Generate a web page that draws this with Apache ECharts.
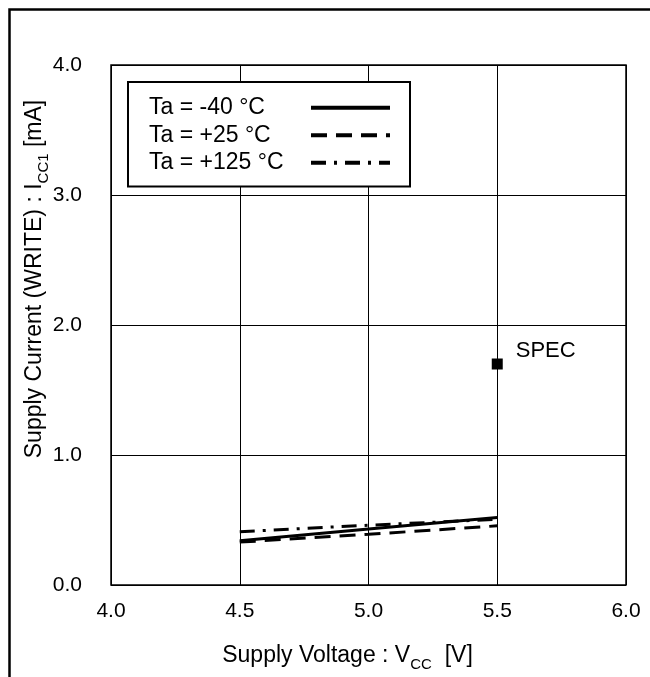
<!DOCTYPE html>
<html>
<head>
<meta charset="utf-8">
<script src="https://cdn.jsdelivr.net/npm/echarts@6/dist/echarts.min.js"></script>
<style>html,body{margin:0;padding:0;background:#fff}#c{width:650px;height:677px}</style>
</head>
<body>
<div id="c"></div>
<script>
var vcc = [4.5, 5.0, 5.5];
var iccM40 = [0.34, 0.43, 0.52];
var icc25 = [0.33, 0.39, 0.455];
var icc125 = [0.41, 0.46, 0.505];
var specV = [5.5];
var specI = [1.7];
var seriesNames = ['Ta = -40 °C', 'Ta = +25 °C', 'Ta = +125 °C'];
var xTicks = [4.0, 4.5, 5.0, 5.5, 6.0];
var yTicks = [0.0, 1.0, 2.0, 3.0, 4.0];

function pairs(xs, ys){ return xs.map(function(x,i){return [x, ys[i]];}); }
var font = 'Liberation Sans, Arial, sans-serif';
var chart = echarts.init(document.getElementById('c'));
chart.setOption({
  animation: false,
  backgroundColor: '#fff',
  textStyle: {fontFamily: font},
  graphic: [{
    type: 'rect', left: 7, top: 7, z: 100,
    shape: {x: 0, y: 0, width: 700, height: 700},
    style: {fill: 'none', stroke: '#000', lineWidth: 2.5}
  }],
  grid: {left: 111, top: 65, width: 515, height: 520, show: true, borderColor: '#000', borderWidth: 1.5, backgroundColor: 'transparent'},
  legend: {
    orient: 'vertical', left: 128, top: 82,
    data: seriesNames,
    align: 'right',
    itemWidth: 79, itemHeight: 20, itemGap: 0,
    padding: [12, 18, 10, 21],
    borderColor: '#000', borderWidth: 2, backgroundColor: '#fff',
    formatter: function(n){ return '{a|' + n + '}'; },
    textStyle: {fontSize: 23, color: '#000', fontFamily: font,
      rich: {a: {fontSize: 23, color: '#000', fontFamily: font, width: 157, align: 'left', lineHeight: 27.5, height: 27.5}}},
    lineStyle: {width: 4},
    itemStyle: {opacity: 0},
    selectedMode: false
  },
  xAxis: {
    type: 'value', min: 4.0, max: 6.0, interval: 0.5,
    axisLine: {show: false}, axisTick: {show: false},
    splitLine: {show: true, lineStyle: {color: '#000', width: 1}},
    axisLabel: {fontSize: 21, color: '#000', margin: 16, formatter: function(v){return v.toFixed(1);}},
    name: '{n|Supply Voltage : V}{s|CC}{n|  [V]}',
    nameLocation: 'middle', nameGap: 56, nameMoveOverlap: false,
    nameTextStyle: {padding: [0, 42, 0, 0], rich: {
      n: {fontSize: 23, color: '#000', fontFamily: font, lineHeight: 26, verticalAlign: 'bottom'},
      s: {fontSize: 15, color: '#000', fontFamily: font, lineHeight: 26, verticalAlign: 'bottom', padding: [0,0,-5,0]}
    }}
  },
  yAxis: {
    type: 'value', min: 0, max: 4.0, interval: 1.0,
    axisLine: {show: false}, axisTick: {show: false},
    splitLine: {show: true, lineStyle: {color: '#000', width: 1}},
    axisLabel: {fontSize: 21, color: '#000', margin: 29, formatter: function(v){return v.toFixed(1);}},
    name: '{n|Supply Current (WRITE) : I}{s|CC1}{n| [mA]}',
    nameLocation: 'middle', nameGap: 65, nameRotate: 90, nameMoveOverlap: false,
    nameTextStyle: {padding: [0, 0, 0, 92], rich: {
      n: {fontSize: 23, color: '#000', fontFamily: font, lineHeight: 26, verticalAlign: 'bottom'},
      s: {fontSize: 15, color: '#000', fontFamily: font, lineHeight: 26, verticalAlign: 'bottom', padding: [0,0,-5,0]}
    }}
  },
  series: [
    {name: seriesNames[0], type: 'line', data: pairs(vcc, iccM40), symbol: 'none', color: '#000',
     lineStyle: {color: '#000', width: 3, type: 'solid'}},
    {name: seriesNames[1], type: 'line', data: pairs(vcc, icc25), symbol: 'none', color: '#000',
     lineStyle: {color: '#000', width: 3, type: [16, 9]}},
    {name: seriesNames[2], type: 'line', data: pairs(vcc, icc125), symbol: 'none', color: '#000',
     lineStyle: {color: '#000', width: 3, type: [15, 8, 3, 8]}},
    {name: 'SPEC', type: 'scatter', data: pairs(specV, specI), symbol: 'rect', symbolSize: 11,
     itemStyle: {color: '#000', opacity: 1},
     label: {show: true, formatter: 'SPEC', position: 'right', distance: 5, offset: [8, -13], fontSize: 22, color: '#000', fontFamily: font}}
  ]
});
</script>
</body>
</html>
